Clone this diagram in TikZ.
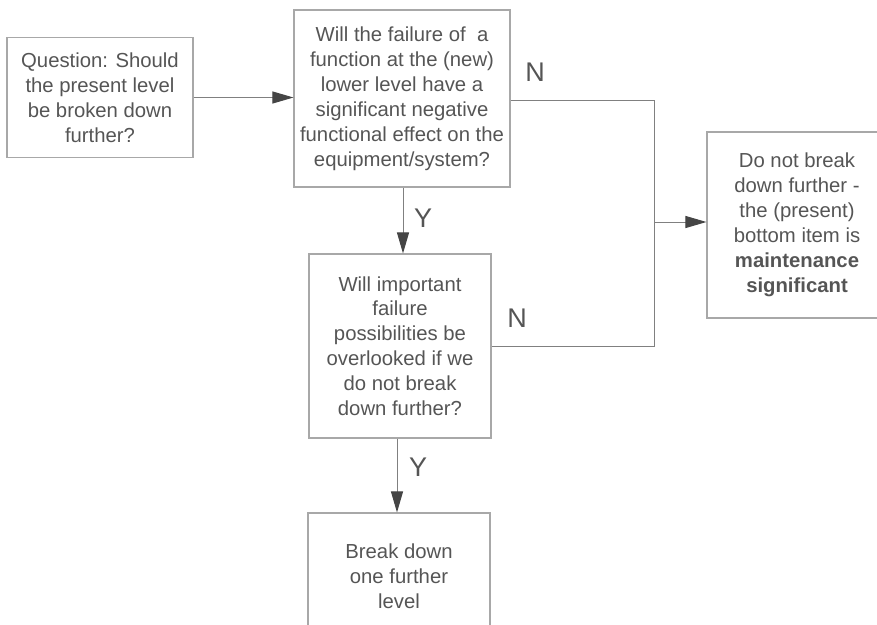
\documentclass[tikz,border=0pt]{standalone}
\usepackage{fontspec}
\setmainfont{Liberation Sans}
\usetikzlibrary{arrows.meta}
\definecolor{txt}{HTML}{555555}
\definecolor{boxc}{HTML}{A8A8A8}
\definecolor{linec}{HTML}{808080}
\definecolor{headc}{HTML}{454545}
\begin{document}
\begin{tikzpicture}[x=1pt,y=1pt,
  box/.style={draw=boxc, line width=1.1pt, align=center, text=txt, inner sep=0pt,
    font=\fontsize{20.3}{24.9}\selectfont},
  conn/.style={draw=linec, line width=1pt},
  arr/.style={conn, -{Triangle[length=21pt,width=12pt,fill=headc,color=headc]}},
  lab/.style={text=txt, font=\fontsize{27}{30}\selectfont, inner sep=0pt}]
\useasboundingbox (0,0) rectangle (877,-624);
\clip (0,0) rectangle (877,-624);
\node[box, minimum width=186pt, minimum height=120pt] (A) at (100,-97.5)
  {Question: Should\\the present level\\be broken down\\further?};
\node[box, minimum width=216pt, minimum height=177pt] (B) at (402,-98.5)
  {Will the failure of\ \ a\\function at the (new)\\lower level have a\\significant negative\\functional effect on the\\equipment/system?};
\node[box, minimum width=182pt, minimum height=184pt] (C) at (400,-346)
  {Will important\\failure\\possibilities be\\overlooked if we\\do not break\\down further?};
\node[box, minimum width=180pt, minimum height=186pt] (D) at (797,-225)
  {Do not break\\down further -\\the (present)\\bottom item is\\\textbf{maintenance}\\\textbf{significant}};
\node[box, minimum width=182pt, minimum height=126pt] (E) at (399,-576)
  {Break down\\one further\\level};
\coordinate (J1) at (654,-100);
\coordinate (J2) at (654,-346);
\coordinate (J3) at (654,-222);
\draw[arr] (A.east) -- (A.east -| B.west);
\draw[conn] (B.east |- J1) -- (J1) -- (J2) -- (J2 -| C.east);
\draw[arr] (J3) -- (J3 -| D.west);
\draw[arr] (B.south -| 403,0) -- (C.north -| 403,0);
\draw[arr] (C.south -| 397,0) -- (E.north -| 397,0);
\node[lab] (N1) at (535,-72) {N};
\node[lab] (N2) at (517,-318) {N};
\node[lab] (Y1) at (423,-218) {Y};
\node[lab] (Y2) at (418,-467) {Y};
\end{tikzpicture}
\end{document}
